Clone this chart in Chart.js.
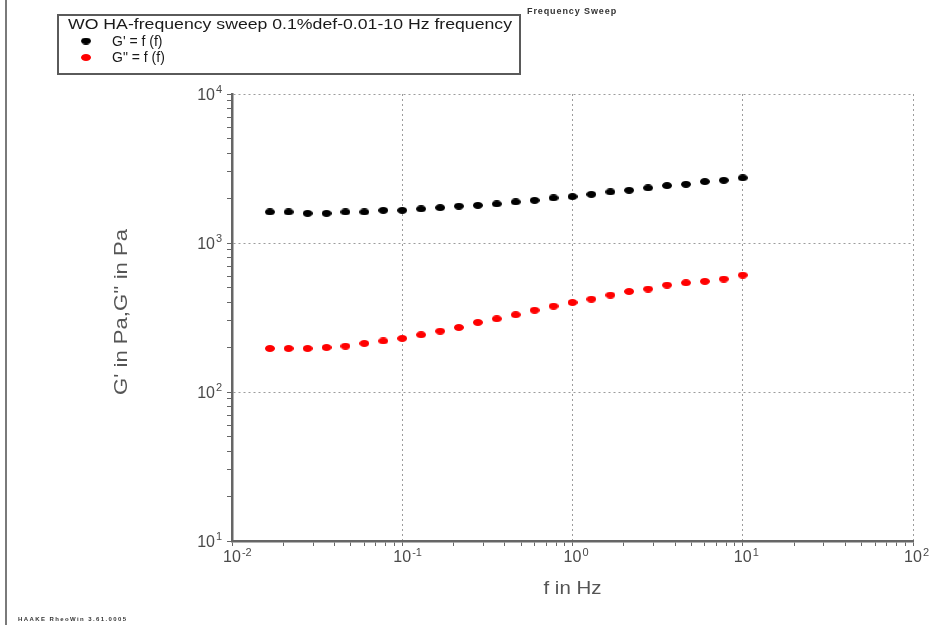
<!DOCTYPE html>
<html>
<head>
<meta charset="utf-8">
<title>Frequency Sweep</title>
<style>
    html, body { margin: 0; padding: 0; background: #fff; }
    #wrap { width: 932px; height: 625px; }
</style>
<script src="https://cdn.jsdelivr.net/npm/chart.js@4.4.1/dist/chart.umd.min.js"></script>
</head>
<body>
<div id="wrap"><canvas id="sweepChart" width="932" height="625"></canvas></div>
<script>
// Frequency sweep values
const freqHz = [0.0167, 0.0215, 0.0278, 0.0359, 0.0464, 0.0599, 0.0774, 0.1, 0.129, 0.167,
    0.215, 0.278, 0.359, 0.464, 0.599, 0.774, 1.0, 1.29, 1.67, 2.15,
    2.78, 3.59, 4.64, 5.99, 7.74, 10.0];
const storageModulus = [1616, 1616, 1581, 1581, 1616, 1616, 1657, 1657, 1693, 1727,
    1768, 1790, 1829, 1887, 1934, 2007, 2048, 2122, 2203, 2258,
    2344, 2429, 2479, 2584, 2636, 2736];
const lossModulus = [196, 196, 196, 199, 203, 212, 220, 229, 242, 256,
    271, 293, 310, 330, 354, 377, 399, 420, 447, 473,
    491, 522, 541, 553, 573, 609];

const seriesLabels = ["G' = f (f)", 'G" = f (f)'];
const seriesColors = ['#000000', '#ff0000'];
const legendTitle = 'WO HA-frequency sweep 0.1%def-0.01-10 Hz frequency';

// decade tick labels are 10 raised to these powers
const xTickPowers = [-2, -1, 0, 1, 2];
const yTickPowers = [1, 2, 3, 4];
const xAxisTitle = 'f in Hz';
const yAxisTitle = "G' in Pa,G'' in Pa";

const FONT = 'Arial, "Liberation Sans", sans-serif';

// small filled ellipse used as marker
function makeDot(color, w, h) {
    const c = document.createElement('canvas');
    c.width = w;
    c.height = h;
    const g = c.getContext('2d');
    g.fillStyle = color;
    g.beginPath();
    g.ellipse(w / 2, h / 2, w / 2, h / 2, 0, 0, Math.PI * 2);
    g.fill();
    return c;
}

// decades plus 2..9 minor ticks in between
function logTicks(powers) {
    const ticks = [];
    powers.forEach((p, i) => {
        ticks.push({ value: Math.pow(10, p) });
        if (i < powers.length - 1) {
            for (let m = 2; m <= 9; m++) ticks.push({ value: m * Math.pow(10, p) });
        }
    });
    return ticks;
}

function isDecade(v) {
    const l = Math.log10(v);
    return Math.abs(l - Math.round(l)) < 1e-6;
}

const gridColor = (c) => (c.tick && isDecade(c.tick.value)) ? '#9c9c9c' : 'rgba(0,0,0,0)';

// text squeezed or stretched along its own direction to a given length
function stretchedText(ctx, text, cx, cy, length, angle) {
    const w = ctx.measureText(text).width;
    ctx.save();
    ctx.translate(cx, cy);
    ctx.rotate(angle);
    ctx.scale(length / w, 1);
    ctx.textAlign = 'center';
    ctx.fillText(text, 0, 0);
    ctx.restore();
}

// left page edge, tick labels with exponents, axis titles, boxed legend, captions
const decorations = {
    id: 'decorations',
    afterDraw(chart) {
        const ctx = chart.ctx;
        const xs = chart.scales.x;
        const ys = chart.scales.y;
        ctx.save();

        ctx.strokeStyle = '#7a7a7a';
        ctx.lineWidth = 2;
        ctx.beginPath();
        ctx.moveTo(6, 0);
        ctx.lineTo(6, 625);
        ctx.stroke();

        ctx.fillStyle = '#4a4a4a';
        ctx.textBaseline = 'middle';
        xTickPowers.forEach(p => {
            const px = xs.getPixelForValue(Math.pow(10, p));
            ctx.font = '16px ' + FONT;
            ctx.textAlign = 'center';
            ctx.fillText('10', px, xs.top + 17);
            const w = ctx.measureText('10').width;
            ctx.font = '11px ' + FONT;
            ctx.textAlign = 'left';
            ctx.fillText(String(p), px + w / 2 + 1, xs.top + 12);
        });
        yTickPowers.forEach(p => {
            const py = ys.getPixelForValue(Math.pow(10, p));
            ctx.font = '16px ' + FONT;
            ctx.textAlign = 'right';
            ctx.fillText('10', ys.right - 17, py + 1.5);
            ctx.font = '11px ' + FONT;
            ctx.textAlign = 'left';
            ctx.fillText(String(p), ys.right - 16, py - 4);
        });

        // axis titles
        ctx.fillStyle = '#555';
        ctx.font = '18px ' + FONT;
        stretchedText(ctx, xAxisTitle, (xs.left + xs.right) / 2, 589, 58, 0);
        stretchedText(ctx, yAxisTitle, 122, 312, 166, -Math.PI / 2);

        // legend box
        ctx.strokeStyle = '#5a5a5a';
        ctx.lineWidth = 2;
        ctx.strokeRect(58, 15, 462, 59);
        ctx.fillStyle = '#1a1a1a';
        ctx.textAlign = 'left';
        ctx.font = '14px ' + FONT;
        const tw = ctx.measureText(legendTitle).width;
        ctx.save();
        ctx.translate(68, 25);
        ctx.scale(444 / tw, 1);
        ctx.fillText(legendTitle, 0, 0);
        ctx.restore();
        chart.data.datasets.forEach((ds, i) => {
            const cy = 41 + i * 16.5;
            const dot = ds.pointStyle;
            ctx.drawImage(dot, 86 - dot.width / 2, cy - dot.height / 2);
            ctx.fillText(ds.label, 112, cy + 1);
        });

        ctx.fillStyle = '#333';
        ctx.font = 'bold 9px ' + FONT;
        ctx.letterSpacing = '0.9px';
        ctx.fillText('Frequency Sweep', 527, 12);

        ctx.font = 'bold 6px ' + FONT;
        ctx.letterSpacing = '1.4px';
        ctx.fillText('HAAKE RheoWin 3.61.0005', 18, 619);
        ctx.restore();
    }
};

document.addEventListener('DOMContentLoaded', () => {
    const ctx = document.getElementById('sweepChart').getContext('2d');
    new Chart(ctx, {
        type: 'scatter',
        data: {
            datasets: [
                {
                    label: seriesLabels[0],
                    data: freqHz.map((f, i) => ({ x: f, y: storageModulus[i] })),
                    pointStyle: makeDot(seriesColors[0], 10, 7),
                    backgroundColor: seriesColors[0],
                    borderColor: seriesColors[0]
                },
                {
                    label: seriesLabels[1],
                    data: freqHz.map((f, i) => ({ x: f, y: lossModulus[i] })),
                    pointStyle: makeDot(seriesColors[1], 10, 7),
                    backgroundColor: seriesColors[1],
                    borderColor: seriesColors[1]
                }
            ]
        },
        options: {
            responsive: false,
            animation: false,
            devicePixelRatio: 1,
            layout: {
                padding: { top: 94, right: 19, left: 0, bottom: 0 }
            },
            plugins: {
                legend: { display: false },
                tooltip: { enabled: false }
            },
            scales: {
                x: {
                    type: 'logarithmic',
                    min: 0.01,
                    max: 100,
                    afterBuildTicks: (scale) => { scale.ticks = logTicks(xTickPowers); },
                    afterFit: (scale) => { scale.height = 84; },
                    ticks: { display: false, autoSkip: false },
                    grid: {
                        color: gridColor,
                        tickColor: '#666',
                        tickLength: 5,
                        lineWidth: 1
                    },
                    border: { color: '#666', width: 2.5, dash: [2, 3] }
                },
                y: {
                    type: 'logarithmic',
                    min: 10,
                    max: 10000,
                    afterBuildTicks: (scale) => { scale.ticks = logTicks(yTickPowers); },
                    afterFit: (scale) => { scale.width = 232; },
                    ticks: { display: false, autoSkip: false },
                    grid: {
                        color: gridColor,
                        tickColor: '#666',
                        tickLength: 5,
                        lineWidth: 1
                    },
                    border: { color: '#666', width: 2.5, dash: [2, 3] }
                }
            }
        },
        plugins: [decorations]
    });
});
</script>
</body>
</html>
